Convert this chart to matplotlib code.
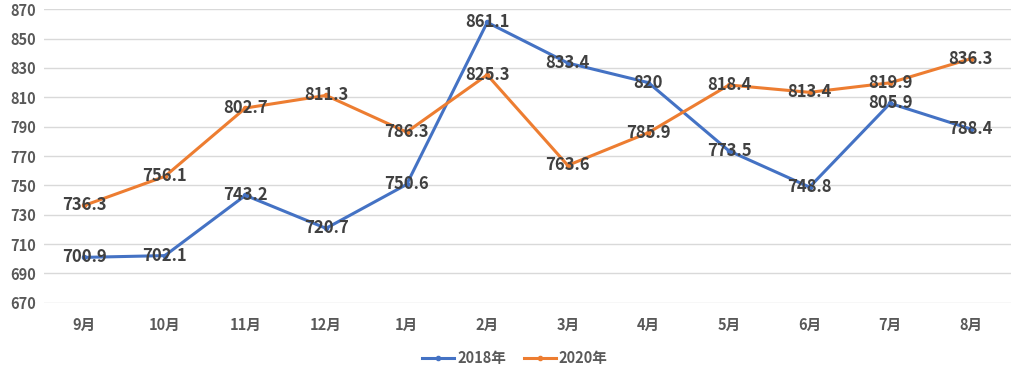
import matplotlib.pyplot as plt

plt.rcParams['font.family'] = ['Noto Sans CJK SC', 'DejaVu Sans']

months = ['9月', '10月', '11月', '12月', '1月', '2月', '3月', '4月', '5月', '6月', '7月', '8月']
y2018 = [700.9, 702.1, 743.2, 720.7, 750.6, 861.1, 833.4, 820, 773.5, 748.8, 805.9, 788.4]
y2020 = [736.3, 756.1, 802.7, 811.3, 786.3, 825.3, 763.6, 785.9, 818.4, 813.4, 819.9, 836.3]
yticks = list(range(670, 871, 20))

fig = plt.figure(figsize=(10.24, 3.81), dpi=100)
ax = fig.add_axes([44 / 1024, 1 - 302.7 / 381, 967 / 1024, 293.4 / 381])

x = range(len(months))
ax.plot(x, y2018, color='#4472C4', linewidth=2.2, marker='o', markersize=3, label='2018年', zorder=3)
ax.plot(x, y2020, color='#ED7D31', linewidth=2.2, marker='o', markersize=3, label='2020年', zorder=3)

# 数据标签
for xs, ys in [(x, y2018), (x, y2020)]:
    for xi, yi in zip(xs, ys):
        ax.text(xi, yi, f'{yi:g}', ha='center', va='center', fontsize=12,
                color='#404040', fontweight='bold', zorder=4)

ax.set_xlim(-0.5, len(months) - 0.5)
ax.set_ylim(670, 870)
ax.set_yticks(yticks)
ax.set_xticks(list(x))
ax.set_xticklabels(months)
ax.grid(axis='y', color='#D9D9D9', linewidth=1)
ax.set_axisbelow(True)
for s in ax.spines.values():
    s.set_visible(False)
ax.tick_params(length=0, labelsize=10.5, labelcolor='#595959', pad=10)
ax.tick_params(axis='y', pad=6)
for lab in ax.get_xticklabels() + ax.get_yticklabels():
    lab.set_fontweight('bold')

leg = fig.legend(loc='center', bbox_to_anchor=(515 / 1024, 1 - 358 / 381), ncol=2,
                 frameon=False, fontsize=10.5, handlelength=2.2, columnspacing=1.2,
                 handletextpad=0.2)
for t in leg.get_texts():
    t.set_color('#595959')
    t.set_fontweight('bold')

fig.savefig('out.png', dpi=100)
